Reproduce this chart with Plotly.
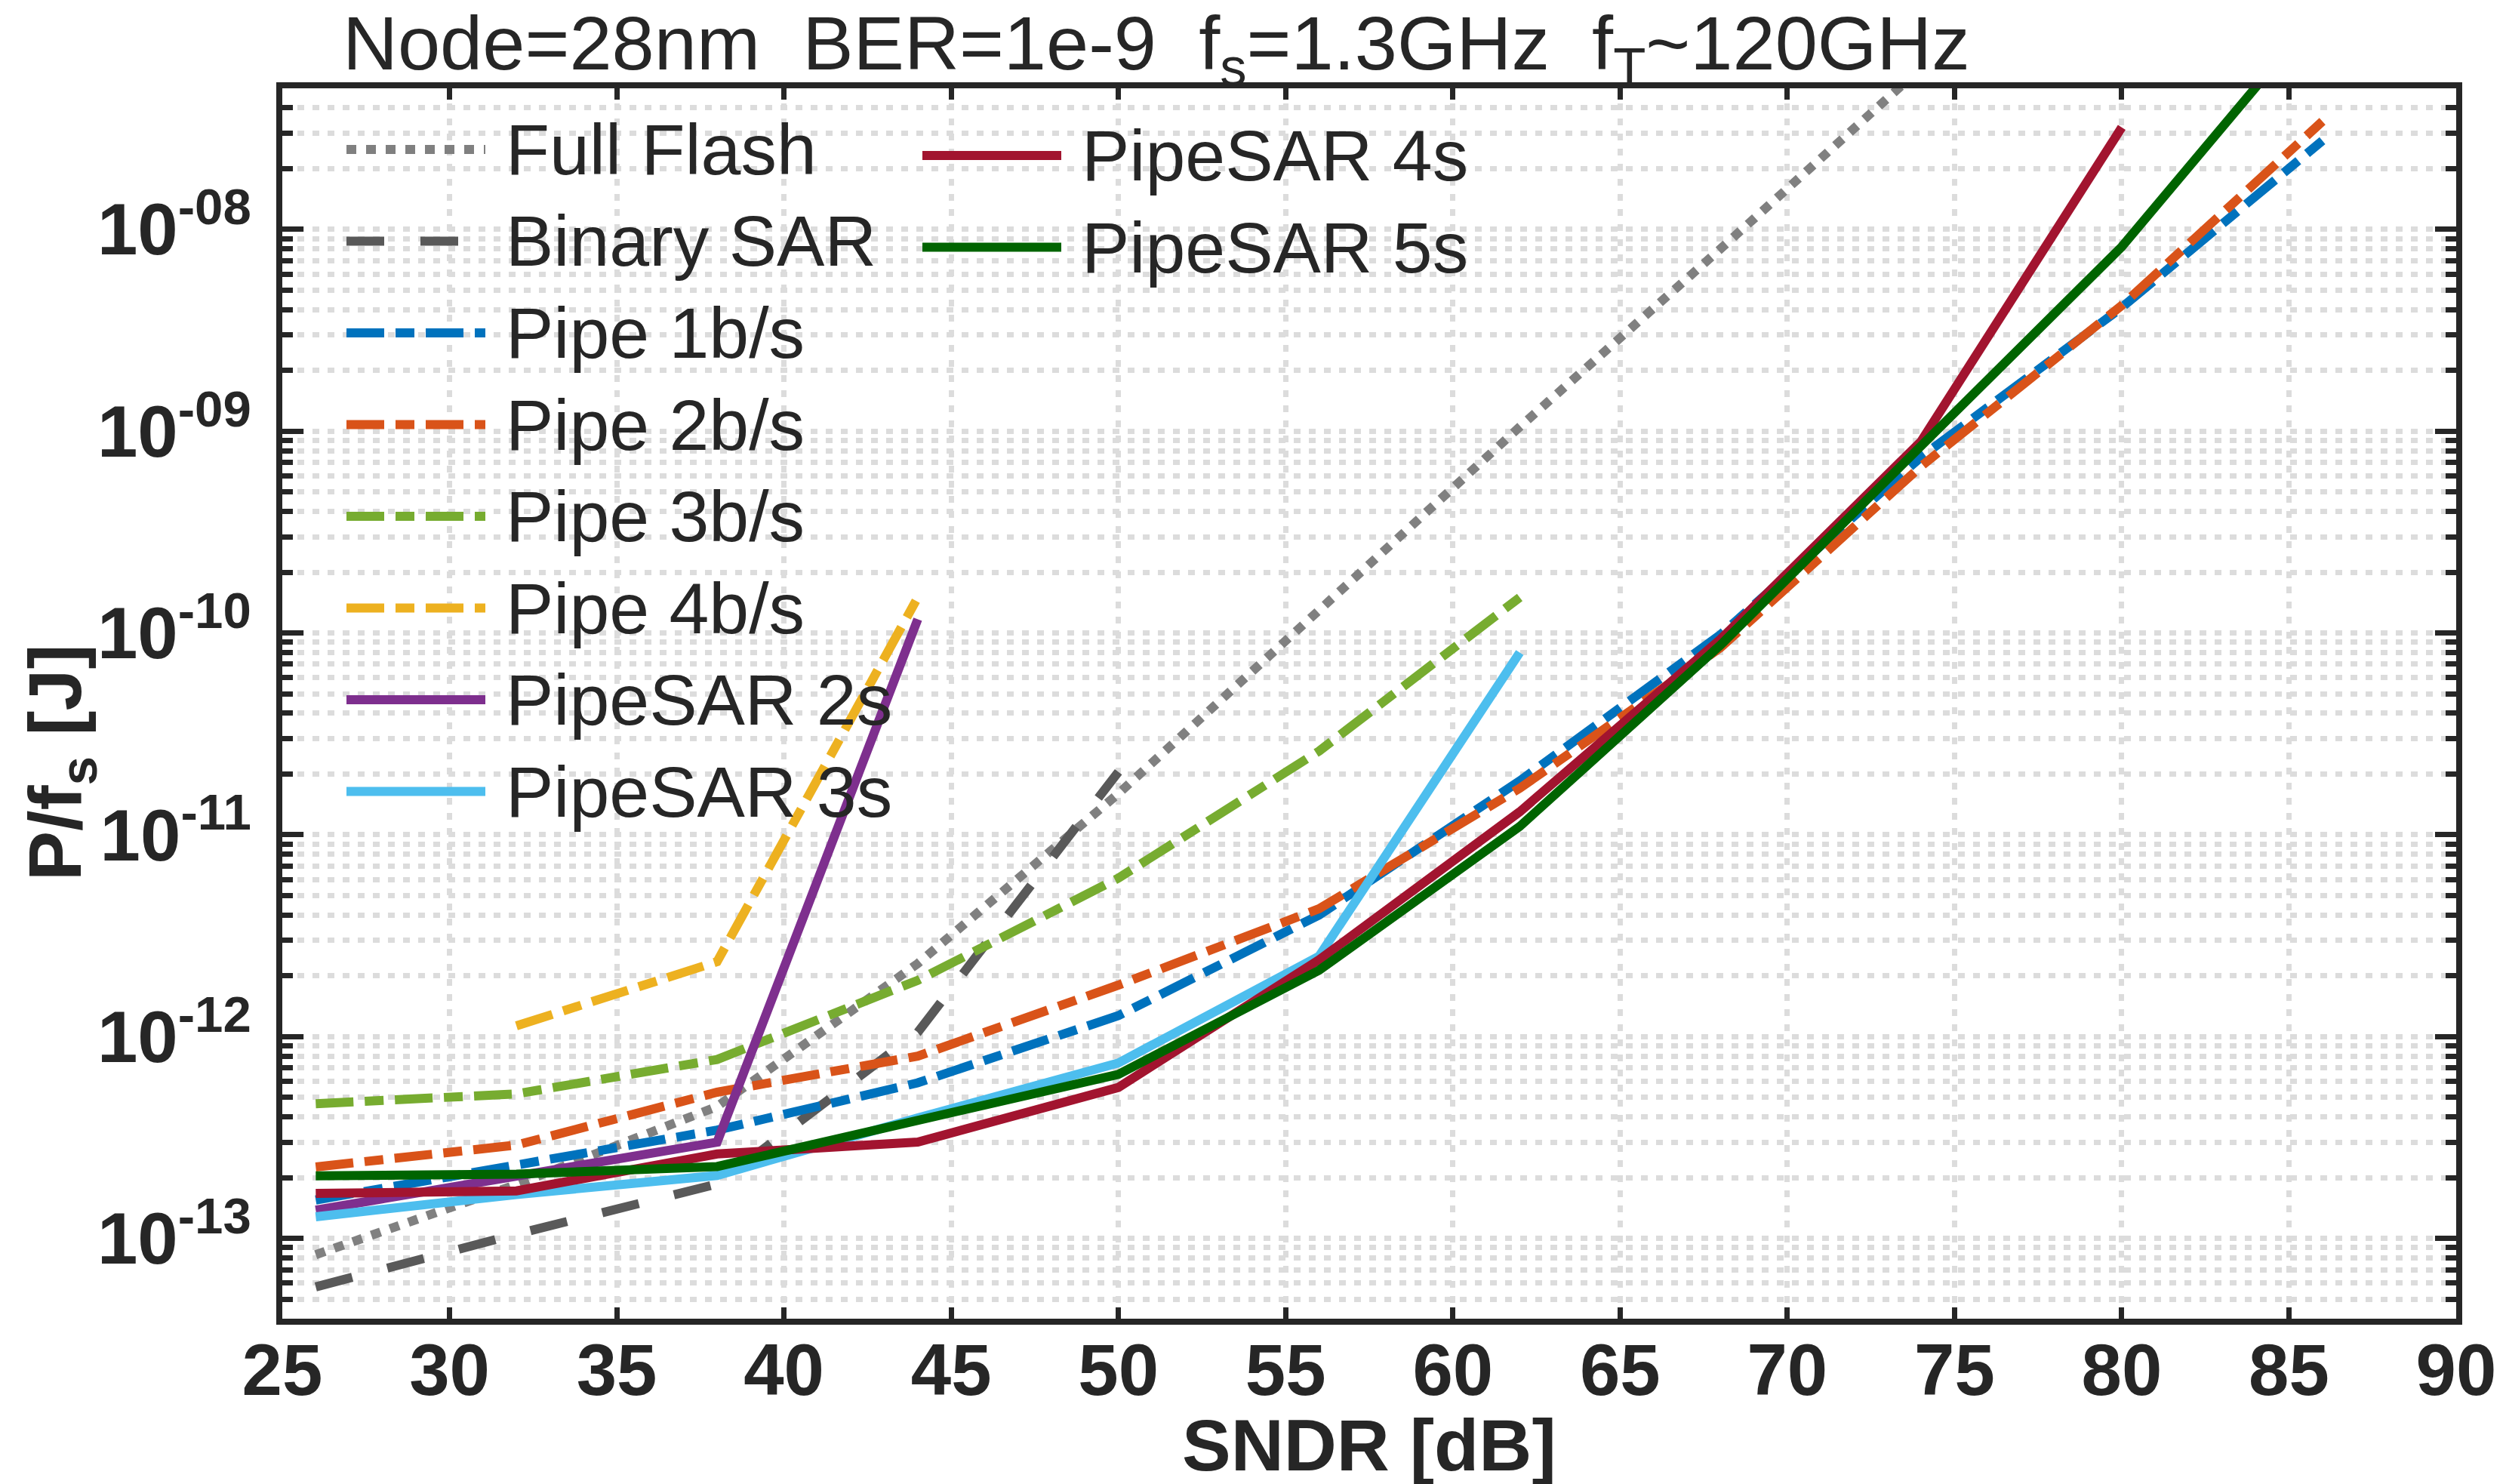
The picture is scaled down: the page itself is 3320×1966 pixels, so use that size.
import numpy as np
import plotly.graph_objects as go

# ---------------- data ----------------
sndr = [26, 32, 38, 44, 50, 56, 62, 68, 74, 80, 86]  # SNDR [dB]

full_flash = [8.3e-14, 1.85e-13, 4.5e-13, 2.3e-12, 1.6e-11, 1.3e-10, 1.05e-9, 8.0e-9, 6.3e-8]
binary_sar = [5.75e-14, 1.05e-13, 1.86e-13, 1.05e-12, 2.05e-11]
pipe_1b = [1.55e-13, 2.3e-13, 3.44e-13, 5.9e-13, 1.27e-12, 4.0e-12, 1.85e-11, 9.8e-11, 7.45e-10, 4.1e-9, 2.75e-8]
pipe_2b = [2.26e-13, 2.9e-13, 5.3e-13, 8.0e-13, 1.8e-12, 4.3e-12, 1.7e-11, 8.45e-11, 6.7e-10, 4.2e-9, 3.43e-8]
pipe_3b = [4.65e-13, 5.2e-13, 7.7e-13, 1.9e-12, 6.1e-12, 2.6e-11, 1.5e-10]
pipe_4b = [1.13e-12, 2.35e-12, 1.5e-10]
pipesar_2s = [1.38e-13, 2.05e-13, 3.0e-13, 1.17e-10]
pipesar_3s = [1.28e-13, 1.65e-13, 2.05e-13, 3.95e-13, 7.4e-13, 2.5e-12, 8.0e-11]
pipesar_4s = [1.67e-13, 1.72e-13, 2.62e-13, 3.0e-13, 5.6e-13, 2.4e-12, 1.3e-11, 9.3e-11, 8.9e-10, 3.2e-8]
pipesar_5s = [2.04e-13, 2.08e-13, 2.27e-13, 3.85e-13, 6.5e-13, 2.13e-12, 1.1e-11, 8.7e-11, 8.6e-10, 8.2e-9, 1.25e-7]

x_ticks = list(range(25, 91, 5))
y_tick_vals = [1e-13, 1e-12, 1e-11, 1e-10, 1e-9, 1e-8]
y_tick_text = ["10<sup>-13</sup>", "10<sup>-12</sup>", "10<sup>-11</sup>",
               "10<sup>-10</sup>", "10<sup>-09</sup>", "10<sup>-08</sup>"]

title_text = ("Node=28nm&nbsp;&nbsp;BER=1e-9&nbsp;&nbsp;f<sub>s</sub>=1.3GHz"
              "&nbsp;&nbsp;f<sub>T</sub>~120GHz")

# ---------------- styling ----------------
W, H = 3320, 1966
ML, MR, MT, MB = 374, 66, 117, 219
PW, PH = W - ML - MR, H - MT - MB

INK = "#262626"
GRID = "#dcdcdc"
FONT = "Liberation Sans, Arial, sans-serif"

DOT = "13px,13px"
DASH = "50px,48px"
DASHDOT = "50px,15px,25px,15px"
LW = 12

# name, y-values, first x index, colour, dash
series = [
    ("Full Flash", full_flash, 0, "#808080", DOT),
    ("Binary SAR", binary_sar, 0, "#595959", DASH),
    ("Pipe 1b/s", pipe_1b, 0, "#0072BD", DASHDOT),
    ("Pipe 2b/s", pipe_2b, 0, "#D95319", DASHDOT),
    ("Pipe 3b/s", pipe_3b, 0, "#77AC30", DASHDOT),
    ("Pipe 4b/s", pipe_4b, 1, "#EDB120", DASHDOT),
    ("PipeSAR 2s", pipesar_2s, 0, "#7E2F8E", "solid"),
    ("PipeSAR 3s", pipesar_3s, 0, "#4DBEEE", "solid"),
    ("PipeSAR 4s", pipesar_4s, 0, "#A2142F", "solid"),
    ("PipeSAR 5s", pipesar_5s, 0, "#006400", "solid"),
]

fig = go.Figure()
for name, yv, i0, color, dash in series:
    fig.add_trace(go.Scatter(
        x=sndr[i0:i0 + len(yv)], y=yv, mode="lines", name=name,
        line=dict(color=color, width=LW, dash=dash),
        showlegend=False, hoverinfo="skip",
    ))


def px_x(px):
    return (px - ML) / PW


def px_y(py):
    return (H - MB - py) / PH


# ---------------- legend (two columns, no frame) ----------------
leg_cols = [series[:8], series[8:]]
leg_x0 = [459, 1222]
leg_y0 = [198, 206]
row_pitch = 121.5
key_len = 184
text_gap = 25
shapes, annotations = [], []
for c, col in enumerate(leg_cols):
    for r, (name, _, _, color, dash) in enumerate(col):
        yy = px_y(leg_y0[c] + r * row_pitch)
        shapes.append(dict(type="line", xref="paper", yref="paper",
                           x0=px_x(leg_x0[c]), x1=px_x(leg_x0[c] + key_len),
                           y0=yy, y1=yy,
                           line=dict(color=color, width=LW, dash=dash)))
        annotations.append(dict(text=name, xref="paper", yref="paper",
                                x=px_x(leg_x0[c] + key_len + text_gap), y=yy,
                                xanchor="left", yanchor="middle", showarrow=False,
                                font=dict(family=FONT, size=95, color=INK)))

# title line
annotations.append(dict(text=title_text, xref="paper", yref="paper",
                        x=px_x(452), y=px_y(64.5), xanchor="left", yanchor="middle",
                        showarrow=False, font=dict(family=FONT, size=101, color=INK)))
# axis titles
annotations.append(dict(text="<b>SNDR [dB]</b>", xref="paper", yref="paper",
                        x=0.5, y=px_y(1914), xanchor="center", yanchor="middle",
                        showarrow=False, font=dict(family=FONT, size=97, color=INK)))
annotations.append(dict(text="<b>P/f<sub>s</sub> [J]</b>", xref="paper", yref="paper",
                        x=px_x(80), y=px_y(1010), xanchor="center", yanchor="middle",
                        textangle=-90, showarrow=False,
                        font=dict(family=FONT, size=99, color=INK)))

minor_vals = [m * 10.0 ** e for e in range(-14, -7) for m in range(2, 10)]

fig.update_layout(
    width=W, height=H, autosize=False,
    margin=dict(l=ML, r=MR, t=MT, b=MB, pad=0),
    paper_bgcolor="white", plot_bgcolor="white",
    shapes=shapes, annotations=annotations,
    showlegend=False,
)
fig.update_xaxes(
    range=[25, 90], tickvals=x_ticks,
    showline=True, linewidth=8, linecolor=INK, mirror="allticks",
    ticks="inside", ticklen=15, tickwidth=7, tickcolor=INK,
    tickfont=dict(family=FONT, size=96, color=INK, weight="bold"),
    ticklabelstandoff=-22,
    showgrid=True, gridcolor=GRID, gridwidth=7, griddash="9px,11px",
    zeroline=False,
)
fig.update_yaxes(
    type="log", range=[np.log10(4e-14), np.log10(5e-8)],
    tickvals=y_tick_vals, ticktext=y_tick_text,
    showline=True, linewidth=8, linecolor=INK, mirror="allticks",
    ticks="inside", ticklen=28, tickwidth=7, tickcolor=INK,
    tickfont=dict(family=FONT, size=96, color=INK, weight="bold"),
    ticklabelstandoff=14,
    showgrid=True, gridcolor=GRID, gridwidth=7, griddash="9px,11px",
    minor=dict(tickvals=minor_vals, ticks="inside", ticklen=14, tickwidth=7,
               tickcolor=INK, showgrid=True, gridcolor=GRID, gridwidth=7,
               griddash="9px,11px"),
    zeroline=False,
)

fig.write_html("out.html")
